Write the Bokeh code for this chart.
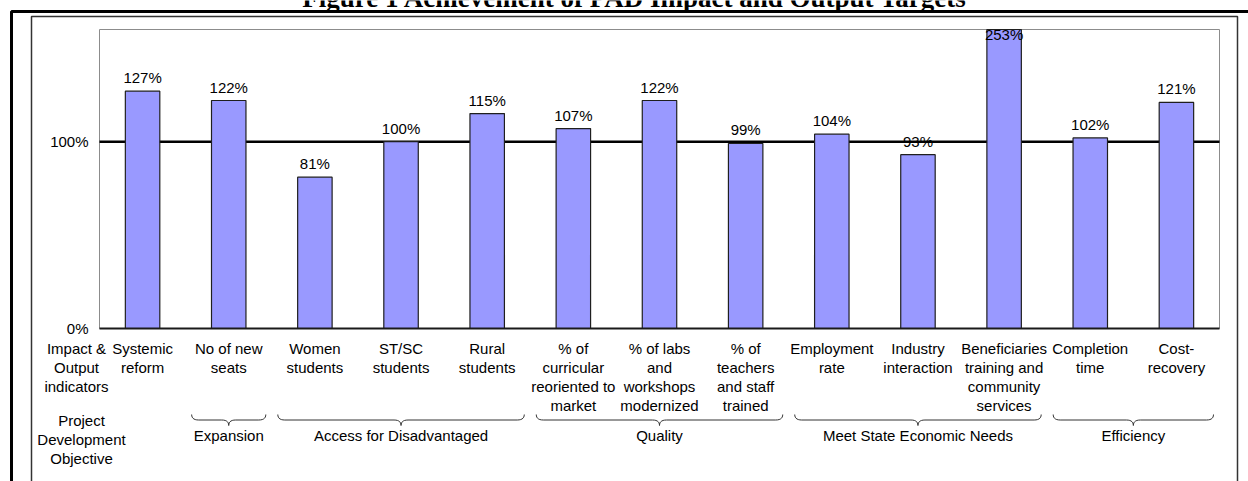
import numpy as np
from bokeh.plotting import figure
from bokeh.models import ColumnDataSource, Range1d
from bokeh.core.properties import value
from bokeh.embed import file_html
from bokeh.resources import INLINE

# ---- data -----------------------------------------------------------------
categories = [
    "Systemic\nreform",
    "No of new\nseats",
    "Women\nstudents",
    "ST/SC\nstudents",
    "Rural\nstudents",
    "% of\ncurricular\nreoriented to\nmarket",
    "% of labs\nand\nworkshops\nmodernized",
    "% of\nteachers\nand staff\ntrained",
    "Employment\nrate",
    "Industry\ninteraction",
    "Beneficiaries\ntraining and\ncommunity\nservices",
    "Completion\ntime",
    "Cost-\nrecovery",
]
achievement = [127, 122, 81, 100, 115, 107, 122, 99, 104, 93, 253, 102, 121]  # % of target

objectives = ["Expansion", "Access for Disadvantaged", "Quality",
              "Meet State Economic Needs", "Efficiency"]
objective_members = [[1], [2, 3, 4], [5, 6, 7], [8, 9, 10], [11, 12]]

y_ticks = [0, 100]
target_level = 100
title_text = "Figure 1 Achievement of PAD Impact and Output Targets"
row_header_indicators = "Impact &\nOutput\nindicators"
row_header_objective = "Project\nDevelopment\nObjective"

# ---- layout ---------------------------------------------------------------
W, H = 1248, 481
FRAME_L, FRAME_R, FRAME_T, FRAME_B = 99, 1219, 29, 328   # plot area in pixels
Y_MAX = 160                                              # value axis top
LABEL_CEIL = 150      # value labels of bars running past the axis top stay below its edge
FONT = value("Liberation Sans")
FS = "15px"
LINE_H = 1.13
n = len(categories)
x_pos = np.arange(n) + 0.5
PX_X = (FRAME_R - FRAME_L) / n          # pixels per category
PX_Y = (FRAME_B - FRAME_T) / Y_MAX      # pixels per percentage point


def sx(px):
    """pixel column -> x data coordinate"""
    return (px - FRAME_L) / PX_X


def sy(py):
    """pixel row -> y data coordinate"""
    return (FRAME_B - py) / PX_Y


p = figure(width=W, height=H, output_backend="svg", toolbar_location=None,
           x_range=Range1d(sx(0), sx(W)), y_range=Range1d(sy(H), sy(0)),
           x_axis_location=None, y_axis_location=None, min_border=0)
p.background_fill_color = "white"
p.border_fill_color = "white"
p.outline_line_color = None
p.grid.visible = False

# plot area
p.quad(left=[0], right=[n], bottom=[0], top=[Y_MAX], fill_color="white",
       line_color="#8c8c8c", line_width=1)

# target line at 100%, behind the bars
p.segment(x0=[0], x1=[n], y0=[target_level], y1=[target_level],
          line_color="black", line_width=2.5)

# bars; a value past the axis top is cut off at the plot area edge
src = ColumnDataSource(dict(
    x=x_pos,
    top=np.minimum(achievement, Y_MAX),
    label_y=np.minimum(achievement, LABEL_CEIL) + 13.5 / PX_Y,
    text=[f"{v}%" for v in achievement],
))
p.vbar(x="x", top="top", width=0.4, source=src, fill_color="#9999FF",
       line_color="#1f1f1f", line_width=1.2)
p.text(x="x", y="label_y", text="text", source=src, text_align="center",
       text_baseline="middle", text_font=FONT, text_font_size=FS, text_color="black")

# category axis line
p.segment(x0=[0], x1=[n], y0=[0], y1=[0], line_color="#1a1a1a", line_width=2)

# value axis labels
p.text(x=[sx(88)] * len(y_ticks), y=y_ticks, text=[f"{t}%" for t in y_ticks],
       text_align="right", text_baseline="middle", text_font=FONT,
       text_font_size=FS, text_color="black")

# category labels
p.text(x=x_pos, y=[sy(339)] * n, text=categories, text_align="center",
       text_baseline="top", text_font=FONT, text_font_size=FS,
       text_line_height=LINE_H, text_color="black")

# row headers on the left
p.text(x=[sx(76), sx(81)], y=[sy(339), sy(411)],
       text=[row_header_indicators, row_header_objective], text_align="center",
       text_baseline="top", text_font=FONT, text_font_size=FS,
       text_line_height=LINE_H, text_color="black")


def quad(p0, c, p1, steps=8):
    t = np.linspace(0, 1, steps)
    xs = (1 - t) ** 2 * p0[0] + 2 * (1 - t) * t * c[0] + t ** 2 * p1[0]
    ys = (1 - t) ** 2 * p0[1] + 2 * (1 - t) * t * c[1] + t ** 2 * p1[1]
    return list(xs), list(ys)


def brace_path(x0, x1, xc, ytop=414, ymid=419.5, ybot=425, r=7):
    px, py = [], []
    for seg in (quad((x0, ytop), (x0, ymid), (x0 + r, ymid)),
                quad((xc - r, ymid), (xc, ymid), (xc, ybot)),
                quad((xc, ybot), (xc, ymid), (xc + r, ymid)),
                quad((x1 - r, ymid), (x1, ymid), (x1, ytop))):
        px += seg[0]
        py += seg[1]
    return [sx(v) for v in px], [sy(v) for v in py]


brace_xs, brace_ys, centres = [], [], []
for members in objective_members:
    left = FRAME_L + members[0] * PX_X + 6
    right = FRAME_L + (members[-1] + 1) * PX_X - 6
    centre = float(np.mean([m + 0.5 for m in members]))
    bx, by = brace_path(left, right, FRAME_L + centre * PX_X)
    brace_xs.append(bx)
    brace_ys.append(by)
    centres.append(centre)
p.multi_line(xs=brace_xs, ys=brace_ys, line_color="#333333", line_width=1)
p.text(x=centres, y=[sy(435)] * len(objectives), text=objectives, text_align="center",
       text_baseline="middle", text_font=FONT, text_font_size=FS, text_color="black")

# page frames
p.line(x=[sx(W + 5), sx(11), sx(11)], y=[sy(11), sy(11), sy(H + 5)],
       line_color="black", line_width=3)
p.line(x=[sx(31), sx(31), sx(1237), sx(1237)], y=[sy(H + 5), sy(16), sy(16), sy(H + 5)],
       line_color="#333333", line_width=1.5)

# title, sitting above the page frame
p.text(x=[sx(634.5)], y=[sy(-2.5)], text=[title_text], text_align="center",
       text_baseline="middle", text_font=value("Liberation Serif"),
       text_font_style="bold", text_font_size="27px", text_color="black")

open("out.html", "w").write(file_html(p, INLINE))
